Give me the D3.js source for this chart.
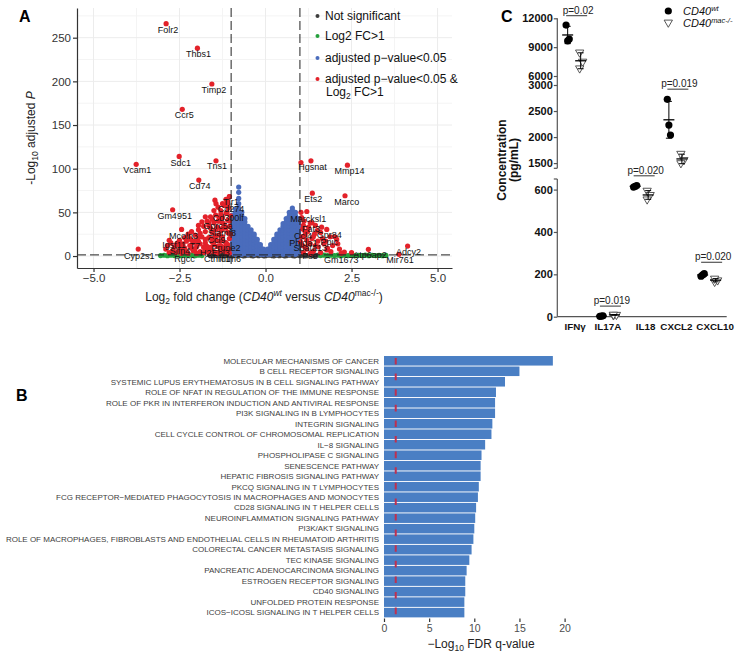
<!DOCTYPE html>
<html><head><meta charset="utf-8">
<script src="https://cdn.jsdelivr.net/npm/d3@7"></script>
<style>body{margin:0;background:#fff}svg{display:block;font-family:"Liberation Sans",Arial,sans-serif}</style>
</head><body><svg id="c" width="740" height="657"></svg>
<script>
// ---------------- Panel A data ----------------
const volcanoXTicks=[-5,-2.5,0,2.5,5];
const volcanoYTicks=[0,50,100,150,200,250];
const fcCutoff=1, pCutoff=1.3;
const legendLabels=["Not significant","Log2 FC>1","adjusted p\u2212value<0.05","adjusted p\u2212value<0.05 &"];
const nsPoints=[[-1.6,0.4],[-1.5,0.9],[-1.4,0.4],[-1.3,0.9],[-1.2,0.4],[-1.1,0.9],[-1.0,0.4],[-0.9,0.9],[-0.8,0.4],[-0.7,0.9],[-0.6,0.4],[-0.5,0.9],[-0.4,0.4],[-0.3,0.9],[-0.2,0.4],[-0.1,0.9],[0,0.4],[0.1,0.9],[0.2,0.4],[0.3,0.9],[0.4,0.4],[0.5,0.9],[0.6,0.4],[0.7,0.9],[0.8,0.4],[0.9,0.9],[1.0,0.4],[1.1,0.9],[1.2,0.4],[1.3,0.9],[1.4,0.4],[1.5,0.9],[-1.55,0.2],[-1.25,0.2],[-0.95,0.2],[-0.65,0.2],[-0.35,0.2],[-0.05,0.2],[0.25,0.2],[0.55,0.2],[0.85,0.2],[1.15,0.2],[1.45,0.2]];
const fcPoints=[[-3.05,0.5],[-2.95,0.9],[-2.85,0.4],[-2.75,0.9],[-2.65,0.5],[-2.55,1.0],[-2.45,0.4],[-2.35,0.9],[-2.25,0.5],[-2.15,1.0],[-2.05,0.4],[-1.95,0.9],[-1.85,0.5],[1.6,0.5],[1.7,1.0],[1.8,0.4],[1.9,0.9],[2.0,0.5],[2.1,1.0],[2.2,0.4],[2.3,0.9],[2.4,0.5],[2.5,1.0],[2.6,0.4],[2.7,0.9],[2.8,0.5],[2.9,1.0],[3.0,0.4],[3.1,0.9],[3.2,0.5],[3.3,0.8],[3.4,0.4],[3.5,0.7]];
const pOnlyColumns=[
 [-0.96,[3,7,11,15,19,23,27,31,35,39,43,47]],
 [-0.87,[2,6,10,14,18,22,26,30,34,38,42,46,50,54]],
 [-0.78,[3,7,11,15,19,23,27,31,35,39,43,47,51,55,60,66,73,79]],
 [-0.69,[2,6,10,14,18,22,26,30,34,38,42,46,50]],
 [-0.60,[3,7,11,15,19,23,27,31,35,39,43]],
 [-0.51,[2,6,10,14,18,22,26,30,34]],
 [-0.42,[3,7,11,15,19,23,27,30]],
 [-0.33,[2,6,10,14,18,22,25]],
 [-0.24,[3,7,11,15,19]],
 [-0.15,[2,6,10,13]],
 [-0.06,[2,5,8]],
 [0.06,[2,5,8]],
 [0.15,[2,6,10,13]],
 [0.24,[3,7,11,15,19]],
 [0.33,[2,6,10,14,18,22,25]],
 [0.42,[3,7,11,15,19,23,27,30]],
 [0.51,[2,6,10,14,18,22,26,30,34,37]],
 [0.60,[3,7,11,15,19,23,27,31,35,39,43]],
 [0.69,[2,6,10,14,18,22,26,30,34,38,42,46,50]],
 [0.78,[3,7,11,15,19,23,27,31,35,39,43,47,52,55]],
 [0.87,[2,6,10,14,18,22,26,30,34,38,42,46,50]],
 [0.96,[3,7,11,15,19,23,27,31,35,39,43]]
];
const bothPoints=[[-1.05,68],[-1.12,63],[-1.47,64],[-1.44,60],[-1.38,56],[-1.2,58],[-1.08,55],[-1.3,52],[-1.15,49],[-1.02,46],[-1.45,47],[-1.25,44],[-1.6,45],[-1.1,41],[-1.35,40],[-1.5,38],[-1.7,40],[-1.2,36],[-1.05,34],[-1.4,33],[-1.6,32],[-1.8,34],[-1.3,29],[-1.1,27],[-1.55,27],[-1.75,28],[-1.95,30],[-2.05,24],[-1.45,23],[-1.25,22],[-1.05,20],[-1.65,21],[-1.85,22],[-2.2,20],[-1.35,17],[-1.15,15],[-1.55,16],[-1.75,15],[-1.95,17],[-2.1,15],[-2.3,17],[-2.5,18],[-2.75,15],[-2.85,12],[-2.6,13],[-2.4,11],[-2.2,12],[-2.0,11],[-1.8,10],[-1.6,10],[-1.4,11],[-1.2,10],[-1.05,8],[-1.3,6],[-1.5,5],[-1.7,6],[-1.9,5],[-2.1,6],[-2.3,5],[-2.5,7],[-2.7,6],[-2.9,8],[-1.15,4],[-1.4,3],[-1.65,3],[-2.0,3],[-2.45,3],[-1.25,31],[-1.9,26],[-2.15,28],[-1.5,52],[-1.25,60],[-1.05,40],[-1.65,35],[-1.15,65],
 [-1.75,45],[-1.55,42],[-1.85,39],[-1.65,38],[-1.45,30],[-1.15,32],[-1.35,24],[-1.55,20],[-1.75,19],[-1.95,22],[-2.15,18],[-2.35,21],[-2.55,15],[-2.65,10],[-2.35,9],[-2.15,9],[-1.9,14],[-1.7,11],[-1.5,13],[-1.3,12],[-1.1,13],[-1.25,18],[-1.45,18],[-1.6,7],[-1.8,4],[-2.05,8],[-2.25,3],[-2.6,4],[-2.8,4],[-1.2,6],[-1.35,44],[-1.25,38],[-1.95,35],[-2.25,25],[-2.4,14],[-1.02,25],[-1.1,58],[-1.3,48],
 [1.32,109],[1.03,50],[1.05,44],[1.12,40],[1.3,38],[1.45,35],[1.63,33],[1.6,27],[1.42,25],[1.22,28],[1.08,31],[1.05,22],[1.2,18],[1.39,22],[1.52,17],[1.7,14],[2.02,22],[2.07,19],[1.95,12],[1.8,9],[1.53,10.6],[1.78,6.9],[1.4,6],[1.2,8],[1.08,12],[1.1,4],[1.3,3],[1.6,4],[2.29,4.6],[2.5,4],[1.25,14],[1.15,24],[1.65,20],[2.15,8],[1.02,16],
 [1.1,35],[1.25,33],[1.5,29],[1.35,20],[1.15,10],[1.45,12],[1.75,17],[1.9,5],[2.1,14]];
const geneNames=["Folr2","Thbs1","Timp2","Ccr5","Sdc1","Tns1","Vcam1","Cd74","Gm4951","Mcoln3","Cyp2s1","Igsf11","Slfn4","Rgcc","T7","H2","Ebi3","Cthrc1","Ifitm6","Tlr1","Cd274","Cd300lf","Gprc5a","Slamf8","Ccl9","Prune2","Hgsnat","Mmp14","Ets2","Marco","Marcksl1","Fat3","Gpr84","Ccl4","Phlda1","Ppic","Spata13","Pse","Gm1673","Atp6ap2","Adcy2","Mir761"];
const geneLog2FC=[-2.89,-1.98,-1.56,-2.42,-2.51,-1.44,-3.76,-1.94,-2.70,-2.44,-3.70,-2.8,-2.5,-2.4,-2.05,-1.78,-1.3,-1.4,-1.05,-1.05,-1.1,-1.12,-1.38,-1.25,-1.45,-1.15,1.03,2.38,1.36,2.31,1.2,1.35,1.78,1.15,1.1,1.88,1.3,1.35,2.2,2.99,4.13,3.88];
const geneNegLogP=[266,238,197,168,114,109,105,87,53,30.5,8,18,13,6,17,10,9,4,3,68,62,50,40,32,23,15,107,104,72,69,51,38,30.5,28,22,22,14,4,3,7.7,11.4,2];

// ---------------- Panel B data ----------------
const pathways=["MOLECULAR MECHANISMS OF CANCER","B CELL RECEPTOR SIGNALING","SYSTEMIC LUPUS ERYTHEMATOSUS IN B CELL SIGNALING PATHWAY","ROLE OF NFAT IN REGULATION OF THE IMMUNE RESPONSE","ROLE OF PKR IN INTERFERON INDUCTION AND ANTIVIRAL RESPONSE","PI3K SIGNALING IN B LYMPHOCYTES","INTEGRIN SIGNALING","CELL CYCLE CONTROL OF CHROMOSOMAL REPLICATION","IL\u22128 SIGNALING","PHOSPHOLIPASE C SIGNALING","SENESCENCE PATHWAY","HEPATIC FIBROSIS SIGNALING PATHWAY","PKCQ SIGNALING IN T LYMPHOCYTES","FCG RECEPTOR\u2212MEDIATED PHAGOCYTOSIS IN MACROPHAGES AND MONOCYTES","CD28 SIGNALING IN T HELPER CELLS","NEUROINFLAMMATION SIGNALING PATHWAY","PI3K/AKT SIGNALING","ROLE OF MACROPHAGES, FIBROBLASTS AND ENDOTHELIAL CELLS IN RHEUMATOID ARTHRITIS","COLORECTAL CANCER METASTASIS SIGNALING","TEC KINASE SIGNALING","PANCREATIC ADENOCARCINOMA SIGNALING","ESTROGEN RECEPTOR SIGNALING","CD40 SIGNALING","UNFOLDED PROTEIN RESPONSE","ICOS\u2212ICOSL SIGNALING IN T HELPER CELLS"];
const pathwayScores=[18.7,15.0,13.4,12.4,12.3,12.3,12.0,11.9,11.2,10.8,10.7,10.7,10.5,10.4,10.2,10.1,10.0,9.9,9.7,9.45,9.15,9.0,9.0,8.9,8.9];
const fdrThreshold=1.3;
const barXTicks=[0,5,10,15,20];

// ---------------- Panel C data ----------------
const cytokines=["IFN\u03b3","IL17A","IL18","CXCL2","CXCL10"];
const wtValues=[[11300,9650,9850],[2,3,4],[612,615,619],[2725,2230,2040],[191,197,203]];
const macValues=[[8450,7500,6800],[7,9,10],[595,575,554],[1680,1560,1500],[165,172,180]];
const pLabels=["p=0.02","p=0.019","p=0.020","p=0.019","p=0.020"];
const pLineLevels=[12270,50,665,2920,257];
const cUpperTicks=[6000,9000,12000], cMidTicks=[1500,2000,2500,3000], cLowTicks=[0,200,400,600];

// =============== drawing ===============
const svg=d3.select("#c");
const colNS="#3d3d3d", colFC="#25a03c", colP="#4a6cbc", colBoth="#e3222a";

// ---- Panel A ----
const xV=d3.scaleLinear().domain([-5.48,5.42]).range([77,452]);
const yV=d3.scaleLinear().domain([-13.7,284]).range([268,8]);
const gA=svg.append("g");
const minorX=[-3.75,-1.25,1.25,3.75], minorY=[25,75,125,175,225,275];
gA.selectAll(".gxm").data(minorX).enter().append("line").attr("x1",d=>xV(d)).attr("x2",d=>xV(d)).attr("y1",8).attr("y2",268).attr("stroke","#f4f4f4");
gA.selectAll(".gym").data(minorY).enter().append("line").attr("y1",d=>yV(d)).attr("y2",d=>yV(d)).attr("x1",77).attr("x2",452).attr("stroke","#f4f4f4");
gA.selectAll(".gx").data(volcanoXTicks).enter().append("line").attr("x1",d=>xV(d)).attr("x2",d=>xV(d)).attr("y1",8).attr("y2",268).attr("stroke","#ececec");
gA.selectAll(".gy").data(volcanoYTicks).enter().append("line").attr("y1",d=>yV(d)).attr("y2",d=>yV(d)).attr("x1",77).attr("x2",452).attr("stroke","#ececec");

const R=2.6;
gA.selectAll(".ns").data(nsPoints).enter().append("circle").attr("cx",d=>xV(d[0])).attr("cy",d=>yV(d[1])).attr("r",R).attr("fill",colNS);
gA.selectAll(".fc").data(fcPoints).enter().append("circle").attr("cx",d=>xV(d[0])).attr("cy",d=>yV(d[1])).attr("r",R).attr("fill",colFC);
const pOnly=pOnlyColumns.flatMap(c=>c[1].map(y=>[c[0],y]));
gA.selectAll(".po").data(pOnly).enter().append("circle").attr("cx",d=>xV(d[0])).attr("cy",d=>yV(d[1])).attr("r",R).attr("fill",colP);
gA.selectAll(".bo").data(bothPoints).enter().append("circle").attr("cx",d=>xV(d[0])).attr("cy",d=>yV(d[1])).attr("r",R).attr("fill",colBoth);
const genes=geneNames.map((n,i)=>({n,x:geneLog2FC[i],y:geneNegLogP[i]}));
gA.selectAll(".gp").data(genes).enter().append("circle").attr("cx",d=>xV(d.x)).attr("cy",d=>yV(d.y)).attr("r",R).attr("fill",colBoth);
// label layout nudges (px)
const labelNudge=[[2,6],[1,6],[2,6],[2,6],[1.5,6],[1,5.5],[1,6],[1,6],[2,6],[2,6],[1,7],[5,5],[0.5,6.5],[1.6,8],[0,5],[1.5,6],[0,5],[0,6.5],[0.6,5.6],[1.6,5],[3.3,7],[1.3,5],[0,5],[-0.5,4.7],[1,4],[0,4.5],[11.6,4],[2,6],[1,6],[1.7,5.6],[1.5,7],[-1,6],[2.6,5],[-2,4.5],[0,6.5],[-1,5],[0,4.5],[-2,3.5],[0,6.6],[1.6,6],[1,5.7],[1,5.7]];
gA.selectAll(".gl").data(genes).enter().append("text").attr("x",(d,i)=>xV(d.x)+labelNudge[i][0]).attr("y",(d,i)=>yV(d.y)+labelNudge[i][1]).attr("dy","0.35em").attr("text-anchor","middle").attr("font-size",9).attr("fill","#111").text(d=>d.n);
[-fcCutoff,fcCutoff].forEach(v=>gA.append("line").attr("x1",xV(v)).attr("x2",xV(v)).attr("y1",8).attr("y2",268).attr("stroke","#222").attr("stroke-width",1).attr("stroke-dasharray","9,4"));
gA.append("line").attr("x1",77).attr("x2",452).attr("y1",yV(pCutoff)).attr("y2",yV(pCutoff)).attr("stroke","#222").attr("stroke-width",1).attr("stroke-dasharray","9,4");
const axL=gA.append("g").attr("transform","translate(77,0)").call(d3.axisLeft(yV).tickValues(volcanoYTicks).tickSize(4).tickPadding(2).tickSizeOuter(0));
const axB=gA.append("g").attr("transform","translate(0,268)").call(d3.axisBottom(xV).tickValues(volcanoXTicks).tickFormat(d3.format(".1f")).tickSize(4).tickPadding(2).tickSizeOuter(0));
[axL,axB].forEach(a=>{a.selectAll("path,line").attr("stroke","#333").attr("stroke-width",1.2);a.selectAll("text").attr("font-size",11.5).attr("fill","#333").attr("font-family","Liberation Sans, Arial, sans-serif");});
axB.selectAll("text").text(d=>d3.format(".1f")(d).replace("-","\u2212"));
const xt=gA.append("text").attr("x",264).attr("y",301).attr("text-anchor","middle").attr("font-size",12).attr("fill","#222");
xt.append("tspan").text("Log");
xt.append("tspan").attr("font-size",8.5).attr("dy",3).text("2");
xt.append("tspan").attr("dy",-3).text(" fold change (");
xt.append("tspan").attr("font-style","italic").text("CD40");
xt.append("tspan").attr("font-style","italic").attr("font-size",8.5).attr("dy",-5).text("wt");
xt.append("tspan").attr("dy",5).text(" versus ");
xt.append("tspan").attr("font-style","italic").text("CD40");
xt.append("tspan").attr("font-size",8.5).attr("dy",-5).text("mac-/-");
xt.append("tspan").attr("dy",5).text(")");
const yt=gA.append("text").attr("transform","translate(35,138) rotate(-90)").attr("text-anchor","middle").attr("font-size",12).attr("fill","#222");
yt.append("tspan").text("-Log");
yt.append("tspan").attr("font-size",8.5).attr("dy",3).text("10");
yt.append("tspan").attr("dy",-3).text(" adjusted ");
yt.append("tspan").attr("font-style","italic").text("P");
const legCols=[colNS,colFC,colP,colBoth], legY=[16,36,58,79];
legendLabels.forEach((t,i)=>{
  gA.append("circle").attr("cx",317.5).attr("cy",legY[i]).attr("r",2).attr("fill",legCols[i]);
  gA.append("text").attr("x",325).attr("y",legY[i]).attr("dy","0.35em").attr("font-size",12).attr("fill","#111").text(t);
});
const l2=gA.append("text").attr("x",326).attr("y",92).attr("dy","0.35em").attr("font-size",12).attr("fill","#111");
l2.append("tspan").text("Log");l2.append("tspan").attr("font-size",8.5).attr("dy",3).text("2");l2.append("tspan").attr("dy",-3).text(" FC>1");
svg.append("text").attr("x",19).attr("y",21.7).attr("font-size",16).attr("font-weight","bold").text("A");

// ---- Panel B ----
const gB=svg.append("g");
const xB=d3.scaleLinear().domain([0,20]).range([384,564.6]);
const yB=d3.scaleBand().domain(pathways).range([355.6,617.8]).paddingInner(0.09).paddingOuter(0.04);
gB.selectAll(".bar").data(pathways).enter().append("rect").attr("x",xB(0)).attr("y",d=>yB(d)).attr("height",yB.bandwidth()).attr("width",(d,i)=>xB(pathwayScores[i])-xB(0)).attr("fill","#4a7fc4");
gB.selectAll(".bl").data(pathways).enter().append("text").attr("x",379).attr("y",d=>yB(d)+yB.bandwidth()/2).attr("dy","0.35em").attr("text-anchor","end").attr("font-size",8).attr("fill","#404040").text(d=>d);
gB.append("line").attr("x1",xB(fdrThreshold)).attr("x2",xB(fdrThreshold)).attr("y1",358).attr("y2",617.5).attr("stroke","#c0304f").attr("stroke-width",2).attr("stroke-dasharray","6.6,9");
const axBB=gB.append("g").attr("transform","translate(0,618.5)").call(d3.axisBottom(xB).tickValues(barXTicks).tickSize(3.5).tickPadding(3).tickSizeOuter(0));
axBB.select(".domain").remove();
axBB.selectAll("line").attr("stroke","#333").attr("stroke-width",1.2);
axBB.selectAll("text").attr("font-size",10.5).attr("fill","#4d4d4d").attr("font-family","Liberation Sans, Arial, sans-serif");
const bt=gB.append("text").attr("x",481).attr("y",648).attr("text-anchor","middle").attr("font-size",12).attr("fill","#222");
bt.append("tspan").text("\u2212Log");bt.append("tspan").attr("font-size",8.5).attr("dy",3).text("10");bt.append("tspan").attr("dy",-3).text(" FDR q-value");
svg.append("text").attr("x",16).attr("y",401).attr("font-size",16).attr("font-weight","bold").text("B");

// ---- Panel C ----
const gC=svg.append("g");
const cUpper=d3.scaleLinear().domain([6000,12000]).range([76,18.3]);
const cMid=d3.scaleLinear().domain([1400,3000]).range([168.3,85]);
const cLow=d3.scaleLinear().domain([0,650]).range([316.7,179]);
const yC=v=>v>=6000?cUpper(v):(v>=1400?cMid(v):cLow(v));
const xC=d3.scaleBand().domain(cytokines).range([557.3,726]);
const cx=c=>xC(c)+xC.bandwidth()/2;
const axX=557.3;
[[cUpper,cUpperTicks],[cMid,cMidTicks],[cLow,cLowTicks]].forEach(([s,t])=>{
  const a=gC.append("g").attr("transform",`translate(${axX},0)`).call(d3.axisLeft(s).tickValues(t).tickFormat(d3.format("d")).tickSize(3.5).tickPadding(1).tickSizeOuter(0));
  a.select(".domain").remove();
  a.selectAll("line").attr("stroke","#555").attr("stroke-width",1.2);
  a.selectAll("text").attr("font-size",11).attr("font-weight","bold").attr("fill","#111").attr("font-family","Liberation Sans, Arial, sans-serif");
});
gC.append("line").attr("x1",axX).attr("x2",axX).attr("y1",cUpper(12000)).attr("y2",cMid(1400)).attr("stroke","#555").attr("stroke-width",1.2);
gC.append("line").attr("x1",axX).attr("x2",axX).attr("y1",cLow(650)).attr("y2",cLow(0)).attr("stroke","#555").attr("stroke-width",1.2);
gC.append("line").attr("x1",axX-3.5).attr("x2",axX).attr("y1",cMid(1400)).attr("y2",cMid(1400)).attr("stroke","#555").attr("stroke-width",1.2);
gC.append("line").attr("x1",axX-3.5).attr("x2",axX).attr("y1",cLow(650)).attr("y2",cLow(650)).attr("stroke","#555").attr("stroke-width",1.2);
gC.append("line").attr("x1",axX).attr("x2",726.7).attr("y1",cLow(0)).attr("y2",cLow(0)).attr("stroke","#555").attr("stroke-width",1.2);
const catLabelNudge=[1,0,4,1,6];
gC.selectAll(".cl").data(cytokines).enter().append("text").attr("x",(d,i)=>cx(d)+catLabelNudge[i]).attr("y",330).attr("text-anchor","middle").attr("font-size",9.8).attr("font-weight","bold").attr("fill","#111").text(d=>d);
const yct=gC.append("text").attr("transform","translate(507.5,160) rotate(-90)").attr("text-anchor","middle").attr("font-size",12).attr("font-weight","bold").attr("fill","#111");
yct.append("tspan").attr("x",0).attr("dy","-0.15em").text("Concentration");
yct.append("tspan").attr("x",0).attr("dy","1.05em").text("(pg/mL)");
const tri=d3.symbol().type(d3.symbolTriangle).size(30);
const wtOff=[-1.6,0,1.6], macOff=[-1,2,-1];
const stat=a=>[d3.mean(a),d3.deviation(a)];
cytokines.forEach((c,i)=>{
  const xw=cx(c)-6.5, xm=cx(c)+6.5;
  wtValues[i].forEach((v,j)=>gC.append("circle").attr("cx",xw+wtOff[j]).attr("cy",yC(v)).attr("r",3.6).attr("fill","#000"));
  macValues[i].forEach((v,j)=>gC.append("path").attr("d",tri).attr("transform",`translate(${xm+macOff[j]},${yC(v)}) rotate(180)`).attr("fill","#fff").attr("stroke","#444").attr("stroke-width",0.9));
  [[wtValues[i],xw],[macValues[i],xm]].forEach(([vals,x])=>{
    const [m,sd]=stat(vals);
    gC.append("line").attr("x1",x-5.5).attr("x2",x+5.5).attr("y1",yC(m)).attr("y2",yC(m)).attr("stroke","#000").attr("stroke-width",1.3);
    gC.append("line").attr("x1",x).attr("x2",x).attr("y1",yC(m-sd)).attr("y2",yC(m+sd)).attr("stroke","#000").attr("stroke-width",1);
    [m-sd,m+sd].forEach(e=>gC.append("line").attr("x1",x-3).attr("x2",x+3).attr("y1",yC(e)).attr("y2",yC(e)).attr("stroke","#000").attr("stroke-width",1));
  });
  const ly=yC(pLineLevels[i]);
  gC.append("line").attr("x1",cx(c)-8).attr("x2",cx(c)+13).attr("y1",ly).attr("y2",ly).attr("stroke","#333").attr("stroke-width",1);
  gC.append("text").attr("x",cx(c)+4).attr("y",ly-1.8).attr("text-anchor","middle").attr("font-size",10).attr("fill","#222").text(pLabels[i]);
});
gC.append("circle").attr("cx",668.3).attr("cy",11).attr("r",3.6).attr("fill","#000");
gC.append("path").attr("d",tri).attr("transform","translate(668.3,22.5) rotate(180)").attr("fill","#fff").attr("stroke","#444").attr("stroke-width",0.9);
const lg1=gC.append("text").attr("x",683).attr("y",15).attr("font-size",11).attr("font-style","italic").attr("fill","#111");
lg1.append("tspan").text("CD40");lg1.append("tspan").attr("font-size",7.5).attr("dy",-4).text("wt");
const lg2=gC.append("text").attr("x",683).attr("y",27).attr("font-size",11).attr("font-style","italic").attr("fill","#111");
lg2.append("tspan").text("CD40");lg2.append("tspan").attr("font-size",7.5).attr("dy",-4).text("mac-/-");
svg.append("text").attr("x",501).attr("y",22).attr("font-size",16).attr("font-weight","bold").text("C");
</script></body></html>
